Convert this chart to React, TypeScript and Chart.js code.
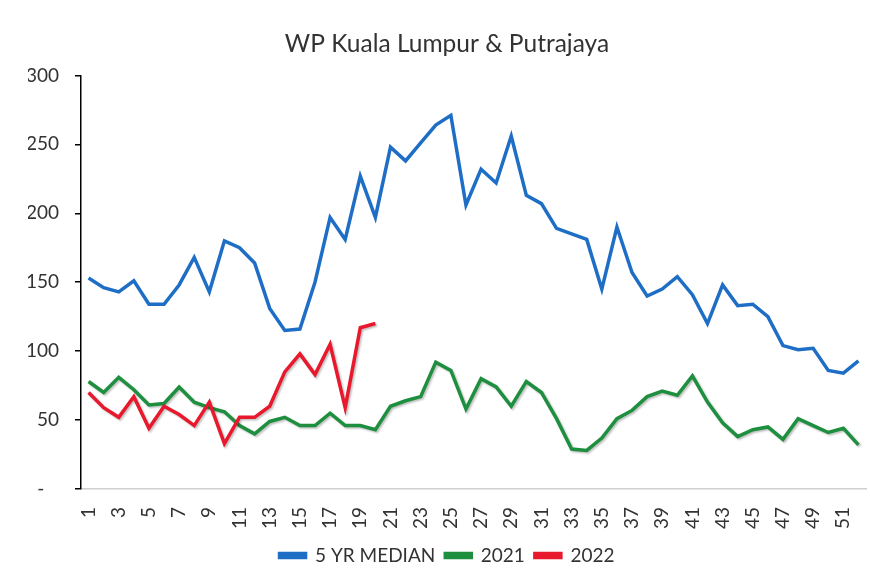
import { useEffect, useRef } from "react";
import { Chart, registerables } from "chart.js";

Chart.register(...registerables);

const weeks = [
  "1", "2", "3", "4", "5", "6", "7", "8", "9", "10",
  "11", "12", "13", "14", "15", "16", "17", "18", "19", "20",
  "21", "22", "23", "24", "25", "26", "27", "28", "29", "30",
  "31", "32", "33", "34", "35", "36", "37", "38", "39", "40",
  "41", "42", "43", "44", "45", "46", "47", "48", "49", "50",
  "51", "52",
];

const median5yr = [
  153, 146, 143, 151, 134, 134, 148, 168, 143, 180,
  175, 164, 131, 115, 116, 150, 197, 181, 227, 197,
  248, 238, 251, 264, 271, 206, 232, 222, 256, 213,
  207, 189, 185, 181, 145, 190, 157, 140, 145, 154,
  141, 120, 148, 133, 134, 125, 104, 101, 102, 86,
  84, 93,
];

const y2021 = [
  78, 70, 81, 72, 61, 62, 74, 63, 59, 56,
  46, 40, 49, 52, 46, 46, 55, 46, 46, 43,
  60, 64, 67, 92, 86, 58, 80, 74, 60, 78,
  70, 51, 29, 28, 37, 51, 57, 67, 71, 68,
  82, 63, 48, 38, 43, 45, 36, 51, 46, 41,
  44, 32,
];

const y2022 = [
  70, 59, 52, 67, 44, 60, 54, 46, 63, 33,
  52, 52, 60, 85, 98, 83, 105, 59, 117, 120,
];

const seriesNames = ["5 YR MEDIAN", "2021", "2022"];
const seriesColors = ["#1F6EC6", "#1D8F3F", "#E8182D"];

const FONT = "Lato, 'Noto Sans', sans-serif";

const shadowPlugin = {
  id: "lineShadow",
  beforeDatasetDraw(chart: any, args: any) {
    if (args.index > 0) {
      const ctx = chart.ctx;
      ctx.save();
      ctx.shadowColor = "rgba(0,0,0,0.25)";
      ctx.shadowOffsetX = 1.5;
      ctx.shadowOffsetY = 1.5;
      ctx.shadowBlur = 2;
    }
  },
  afterDatasetDraw(chart: any, args: any) {
    if (args.index > 0) chart.ctx.restore();
  },
};

export default function App() {
  const ref = useRef<HTMLCanvasElement | null>(null);

  useEffect(() => {
    if (!ref.current) return;
    const chart = new Chart(ref.current, {
      type: "line",
      data: {
        labels: weeks,
        datasets: [
          {
            label: seriesNames[0],
            data: median5yr,
            borderColor: seriesColors[0],
            backgroundColor: seriesColors[0],
            borderWidth: 3.5,
            pointRadius: 0,
            tension: 0,
            order: 2,
          },
          {
            label: seriesNames[1],
            data: y2021,
            borderColor: seriesColors[1],
            backgroundColor: seriesColors[1],
            borderWidth: 3.5,
            pointRadius: 0,
            tension: 0,
            order: 1,
          },
          {
            label: seriesNames[2],
            data: y2022,
            borderColor: seriesColors[2],
            backgroundColor: seriesColors[2],
            borderWidth: 3.5,
            pointRadius: 0,
            tension: 0,
            order: 0,
          },
        ],
      },
      options: {
        responsive: false,
        animation: false,
        layout: { padding: { top: 29, left: 28, right: 4, bottom: 5 } },
        plugins: {
          title: {
            display: true,
            text: "WP Kuala Lumpur & Putrajaya",
            color: "#333333",
            font: { family: FONT, size: 24.5, weight: "normal" },
            padding: { top: 0, bottom: 17 },
          },
          legend: {
            position: "bottom",
            labels: {
              color: "#333333",
              font: { family: FONT, size: 19 },
              boxWidth: 26,
              boxHeight: 4,
              padding: 10,
              sort: (a: any, b: any) => a.datasetIndex - b.datasetIndex,
            },
          },
          tooltip: { enabled: false },
        },
        scales: {
          x: {
            offset: true,
            grid: { display: false },
            border: { display: true, color: "#d0d0d0", width: 1.5 },
            ticks: {
              autoSkip: false,
              minRotation: 90,
              maxRotation: 90,
              padding: 10,
              color: "#333333",
              font: { family: FONT, size: 19 },
              callback: (_v: any, i: number) => (i % 2 === 0 ? weeks[i] : ""),
            },
            afterFit: (scale: any) => {
              scale.height = 47;
              scale.paddingLeft = 0;
              scale.paddingRight = 0;
            },
          },
          y: {
            min: 0,
            max: 300,
            grid: {
              display: true,
              drawOnChartArea: false,
              drawTicks: true,
              tickLength: 6,
              color: "#000000",
              lineWidth: 1.5,
            },
            border: { display: true, color: "#000000", width: 1.5 },
            ticks: {
              stepSize: 50,
              padding: 16,
              color: "#333333",
              font: { family: FONT, size: 19 },
              callback: (v: any) => (v === 0 ? "-   " : String(v)),
            },
            afterFit: (scale: any) => {
              scale.width = 53;
            },
          },
        },
      },
      plugins: [shadowPlugin],
    });
    return () => chart.destroy();
  }, []);

  return (
    <div style={{ position: "absolute", left: 0, top: 0, width: 870, height: 580, background: "#fff" }}>
      <canvas ref={ref} width={870} height={580} />
    </div>
  );
}
